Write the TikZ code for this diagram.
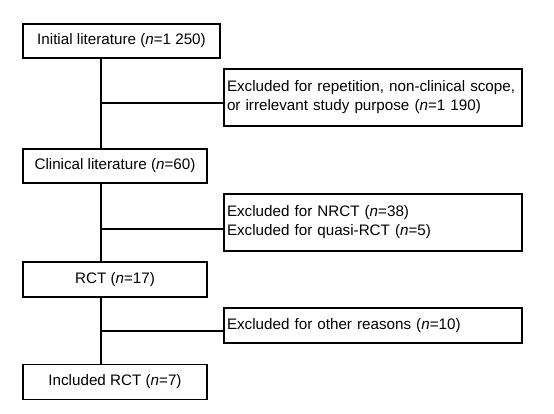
\documentclass[tikz,border=0pt]{standalone}
\usepackage{fontspec}
\setmainfont{Liberation Sans}
\begin{document}
\begin{tikzpicture}[x=1pt,y=-1pt,
  box/.style={draw,line width=1.3pt,inner sep=0pt,font=\fontsize{15.2}{19}\selectfont},
  link/.style={line width=1.3pt}]
\useasboundingbox (0,0) rectangle (554,413);
\node[box,minimum width=197pt,minimum height=34pt] (init) at (121.5,41) {Initial literature (\textit{n}=1 250)};
\node[box,minimum width=298pt,minimum height=57pt,align=left,text width=292pt] (ex1) at (373,97.5) {Excluded for repetition, non-clinical scope,\\or irrelevant study purpose (\textit{n}=1 190)};
\node[box,minimum width=184pt,minimum height=34pt] (clin) at (115,166) {Clinical literature (\textit{n}=60)};
\node[box,minimum width=298pt,minimum height=57pt,align=left,text width=292pt] (ex2) at (373,222.5) {Excluded for NRCT (\textit{n}=38)\\Excluded for quasi-RCT (\textit{n}=5)};
\node[box,minimum width=184pt,minimum height=35pt] (rct) at (115,279.5) {RCT (\textit{n}=17)};
\node[box,minimum width=298pt,minimum height=35pt,align=left,text width=292pt] (ex3) at (373,325.5) {Excluded for other reasons (\textit{n}=10)};
\node[box,minimum width=184pt,minimum height=35pt] (inc) at (115,382) {Included RCT (\textit{n}=7)};
\coordinate (j1) at (101,103);
\coordinate (j2) at (101,229);
\coordinate (j3) at (101,331);
\draw[link] (init.south -| j1) -- (clin.north -| j1);
\draw[link] (clin.south -| j2) -- (rct.north -| j2);
\draw[link] (rct.south -| j3) -- (inc.north -| j3);
\draw[link] (j1) -- (j1 -| ex1.west);
\draw[link] (j2) -- (j2 -| ex2.west);
\draw[link] (j3) -- (j3 -| ex3.west);
\end{tikzpicture}
\end{document}
